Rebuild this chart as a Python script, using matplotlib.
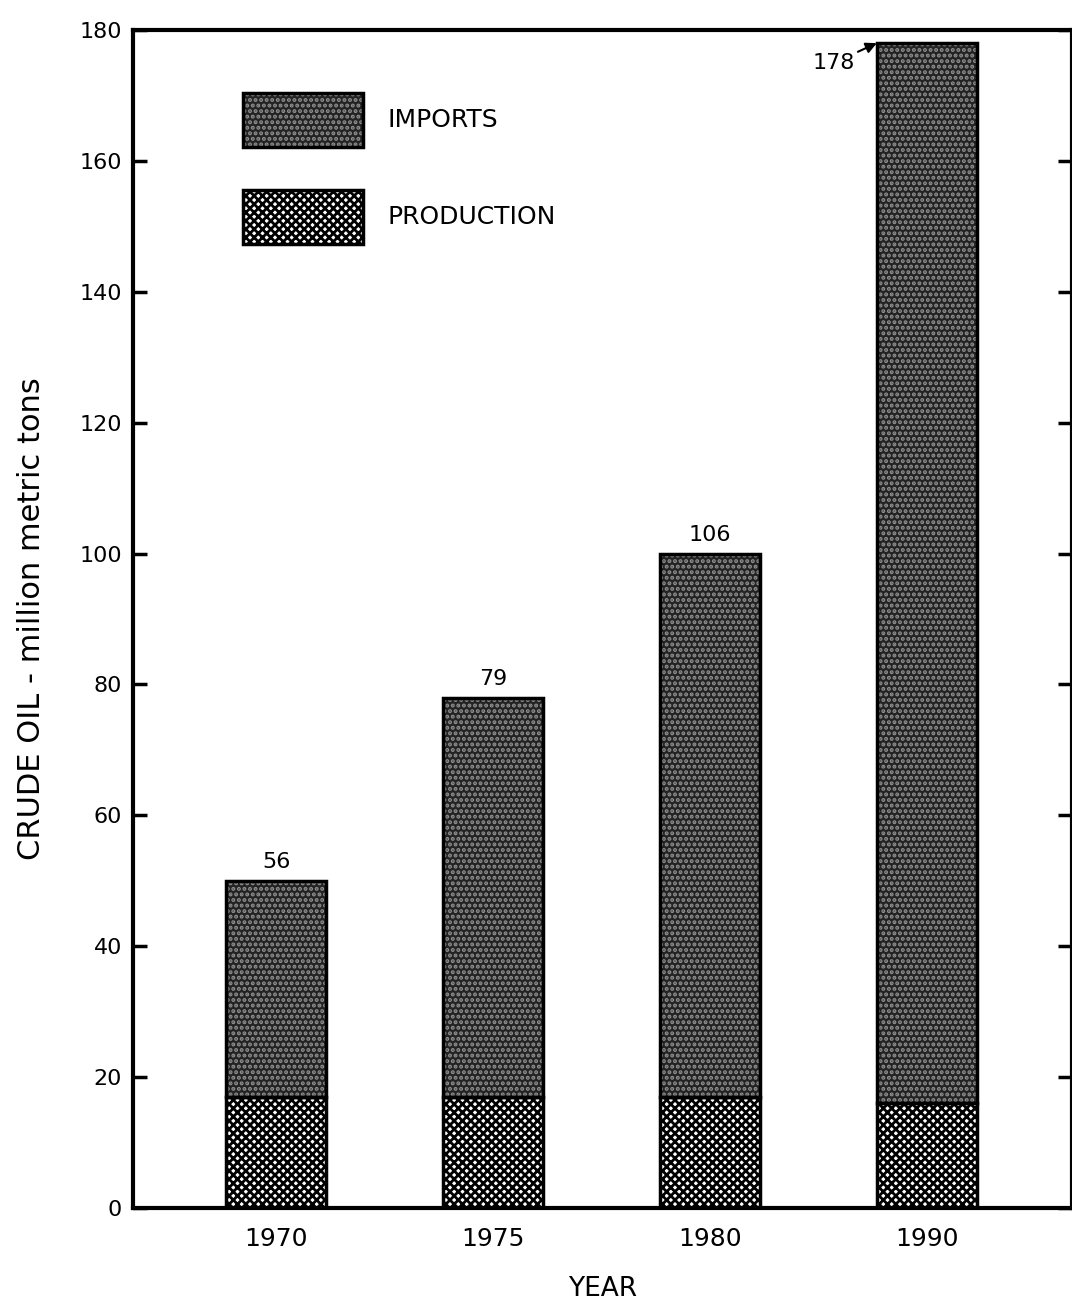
import matplotlib.pyplot as plt
import matplotlib.patches as mpatches
import numpy as np

# data
years = ["1970", "1975", "1980", "1990"]
production = [17, 17, 17, 16]
imports = [33, 61, 83, 162]
total_labels = ["56", "79", "106", "178"]

plt.rcParams['font.family'] = ['DejaVu Sans']
plt.rcParams['hatch.linewidth'] = 2.0

fig = plt.figure(figsize=(10.72, 13.06), dpi=100)
ax = fig.add_axes([0.124, 0.075, 0.876, 0.902])

x = np.arange(len(years))
w = 0.46
tops = np.array(production) + np.array(imports)

imp_face, imp_hatch = "#232323", "#8e8e8e"

# production: white cells on black
ax.bar(x, production, w, color="white", edgecolor="black", hatch="xxxx", linewidth=0)
# imports: dark stipple
ax.bar(x, imports, w, bottom=production, color=imp_face, edgecolor=imp_hatch,
       hatch="...", linewidth=0)
# outlines
ax.bar(x, production, w, fill=False, edgecolor="black", linewidth=2.5)
ax.bar(x, imports, w, bottom=production, fill=False, edgecolor="black", linewidth=2.5)

# totals on top of bars
for i in range(3):
    ax.annotate(total_labels[i], (x[i], tops[i]), xytext=(0, 6), textcoords="offset points",
                ha="center", va="bottom", fontsize=16)
ax.annotate(total_labels[3], xy=(x[3] - w / 2, tops[3]), xytext=(x[3] - w / 2 - 0.1, tops[3] - 3.0),
            ha="right", va="center", fontsize=16,
            arrowprops=dict(arrowstyle="-|>", color="black", lw=1.5, shrinkA=0, shrinkB=0))

ax.set_xlim(-0.66, 3.67)
ax.set_ylim(0, 180)
ax.set_yticks(np.arange(0, 181, 20))
ax.set_xticks(x)
ax.set_xticklabels(years)
ax.tick_params(axis="y", direction="in", length=10, width=2.5, labelsize=16, right=True, pad=8)
ax.tick_params(axis="x", length=0, labelsize=18, pad=14)
for s in ax.spines.values():
    s.set_linewidth(3)

ax.set_xlabel("YEAR", fontsize=19, labelpad=18)
ax.set_ylabel("CRUDE OIL - million metric tons", fontsize=22)
ax.yaxis.set_label_coords(-0.093, 0.5)

imp_patch = mpatches.Patch(facecolor=imp_face, edgecolor=imp_hatch, hatch="...", linewidth=0)
prod_patch = mpatches.Patch(facecolor="white", edgecolor="black", hatch="xxxx", linewidth=0)
leg = ax.legend([imp_patch, prod_patch], ["IMPORTS", "PRODUCTION"], loc="upper left",
                bbox_to_anchor=(243 / 1072, 1 - 93 / 1306), bbox_transform=fig.transFigure,
                frameon=False, fontsize=18, handlelength=4.8, handleheight=2.95,
                labelspacing=1.7, handletextpad=1.0, borderpad=0, borderaxespad=0)

# black frame around legend swatches
fig.canvas.draw()
for h in leg.legend_handles:
    bb = h.get_window_extent(fig.canvas.get_renderer()).transformed(fig.transFigure.inverted())
    fig.add_artist(mpatches.Rectangle((bb.x0, bb.y0), bb.width, bb.height, fill=False,
                                      edgecolor="black", linewidth=2.5, transform=fig.transFigure))

fig.savefig("out.png", dpi=100)
